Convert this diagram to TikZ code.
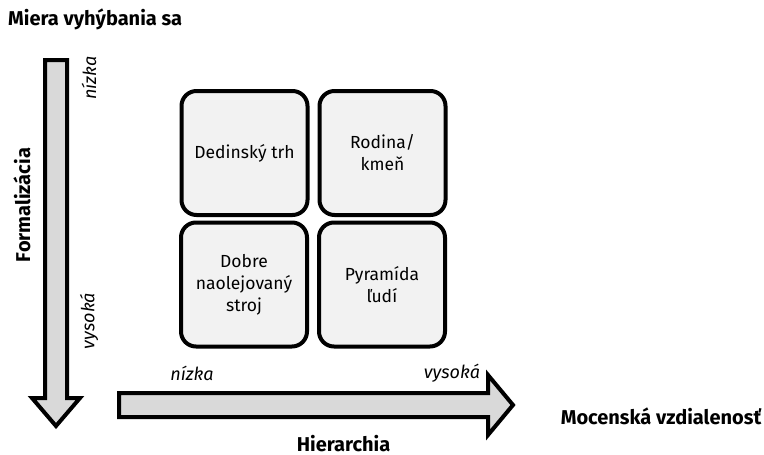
\documentclass[tikz,border=0pt]{standalone}
\usepackage{fontspec}
\setmainfont{Fira Sans}
\begin{document}
\begin{tikzpicture}[x=1pt,y=-1pt,
  quad/.style={draw=black,line width=4pt,fill=black!5,rounded corners=15pt,minimum width=126pt,minimum height=124pt,align=center,font=\fontsize{17.5}{22}\selectfont,inner sep=0pt},
  bigarrow/.style={draw=black,line width=4pt,fill=black!15,line join=miter},
  lbl/.style={font=\fontsize{20}{24}\selectfont\bfseries,inner sep=0pt},
  ital/.style={font=\fontsize{18}{22}\selectfont\itshape,inner sep=0pt}]
\useasboundingbox (0,0) rectangle (764,455);
\node[lbl,anchor=west] (title) at (8,19) {Miera vyhýbania sa};
% vertical arrow
\draw[bigarrow] (45,60) -- (67,60) -- (67,398) -- (80,398) -- (56,426) -- (32,398) -- (45,398) -- cycle;
\node[lbl,rotate=90] (form) at (22,205) {Formalizácia};
\node[ital,rotate=90] (vlow) at (89,78) {nízka};
\node[ital,rotate=90] (vhigh) at (89,321) {vysoká};
% horizontal arrow
\draw[bigarrow] (119,393) -- (488,393) -- (488,375) -- (513,405) -- (488,435) -- (488,417) -- (119,417) -- cycle;
\node[ital] (hlow) at (192,373) {nízka};
\node[ital] (hhigh) at (452,373) {vysoká};
\node[lbl,anchor=base] (hier) at (343.5,451) {Hierarchia};
\node[lbl] (moc) at (661,416) {Mocenská vzdialenosť};
% boxes
\node[quad] (a) at (244.5,153) {Dedinský trh};
\node[quad] (b) at (382.5,153) {Rodina/\\kmeň};
\node[quad] (c) at (244,284.5) {Dobre\\naolejovaný\\stroj};
\node[quad] (d) at (382,284.5) {Pyramída\\ľudí};
\end{tikzpicture}
\end{document}
